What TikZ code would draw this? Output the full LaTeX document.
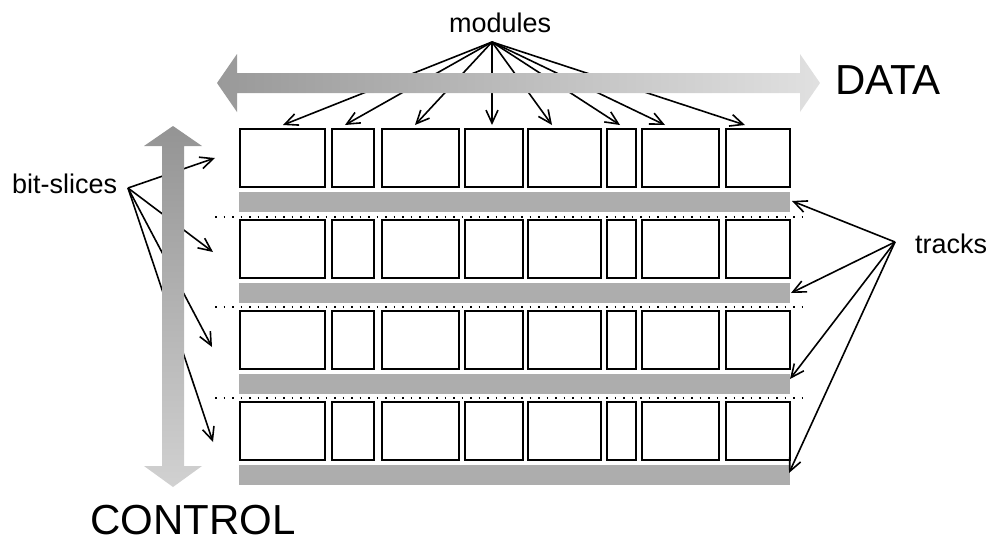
\documentclass[tikz,border=0pt]{standalone}
\usepackage{fontspec}
\setmainfont{Liberation Sans}
\usetikzlibrary{arrows.meta}
\tikzset{
  slicefig/.style={x=1pt,y=-1pt},
  modbox/.style={draw,line width=1.7pt,inner sep=0pt,minimum height=58pt,anchor=north west},
  trackbar/.style={fill=black!32,inner sep=0pt,minimum height=20pt,minimum width=551pt,anchor=north west},
  lbl/.style={font=\fontsize{27}{30}\selectfont,inner sep=0pt,anchor=base west},
  biglbl/.style={font=\fontsize{42}{46}\selectfont,inner sep=0pt,anchor=base west},
  pointer/.style={line width=1.6pt,-{Straight Barb[length=13pt,width=12pt]}},
  sep/.style={line width=1.3pt,dash pattern=on 1.5pt off 7pt}
}

\begin{document}
\begin{tikzpicture}[slicefig]
    \useasboundingbox (0,0) rectangle (989,542);
    % module grid: 4 bit-slices x 8 modules
    \foreach \r/\y in {1/128,2/219,3/310,4/401} {
      \foreach \c/\x/\w in {1/239/85,2/331/42,3/381/77,4/464/58,5/527/73,6/606/29,7/641/77,8/725/64}
        \node[modbox,minimum width=\w pt] (m\r-\c) at (\x,\y) {};
      \node[trackbar] (track\r) at (239,{\y+64}) {};
    }
    \foreach \y in {217,307,398} \draw[sep] (215,\y) -- (808,\y);
    % labels
    \node[lbl] (modules) at (449,32) {modules};
    \node[lbl] (bitslices) at (12,193) {bit-slices};
    \node[lbl] (tracks) at (915,253) {tracks};
    \node[biglbl] (data) at (835,94) {DATA};
    \node[biglbl] (control) at (90,534) {CONTROL};
    \coordinate (modfan) at (492,42);
    \coordinate (slicefan) at (128,188);
    \coordinate (trackfan) at (895,242);
    % pointers
    \foreach \i/\x in {1/283,2/345,3/415,4/492,5/552,6/620,7/665,8/745} {
      \coordinate (mt\i) at (\x,125);
      \draw[pointer] (modfan) -- (mt\i);
    }
    \foreach \i/\x/\y in {1/215/158,2/213/252,3/212/347,4/213/442} {
      \coordinate (st\i) at (\x,\y);
      \draw[pointer] (slicefan) -- (st\i);
    }
    \foreach \i/\x/\y in {1/792/201,2/791/293,3/790/379,4/789/473} {
      \coordinate (tt\i) at (\x,\y);
      \draw[pointer] (trackfan) -- (tt\i);
    }
    % the two buses
    \shade[left color=black!40,right color=black!12]
      (217,83) -- (237,54) -- (237,73) -- (800,73) -- (800,54) -- (820,83)
      -- (800,112) -- (800,93) -- (237,93) -- (237,112) -- cycle;
    \shade[top color=black!42,bottom color=black!18]
      (173,126) -- (202,146) -- (184,146) -- (184,466) -- (202,466) -- (173,487)
      -- (144,466) -- (162,466) -- (162,146) -- (144,146) -- cycle;
\end{tikzpicture}
\end{document}
